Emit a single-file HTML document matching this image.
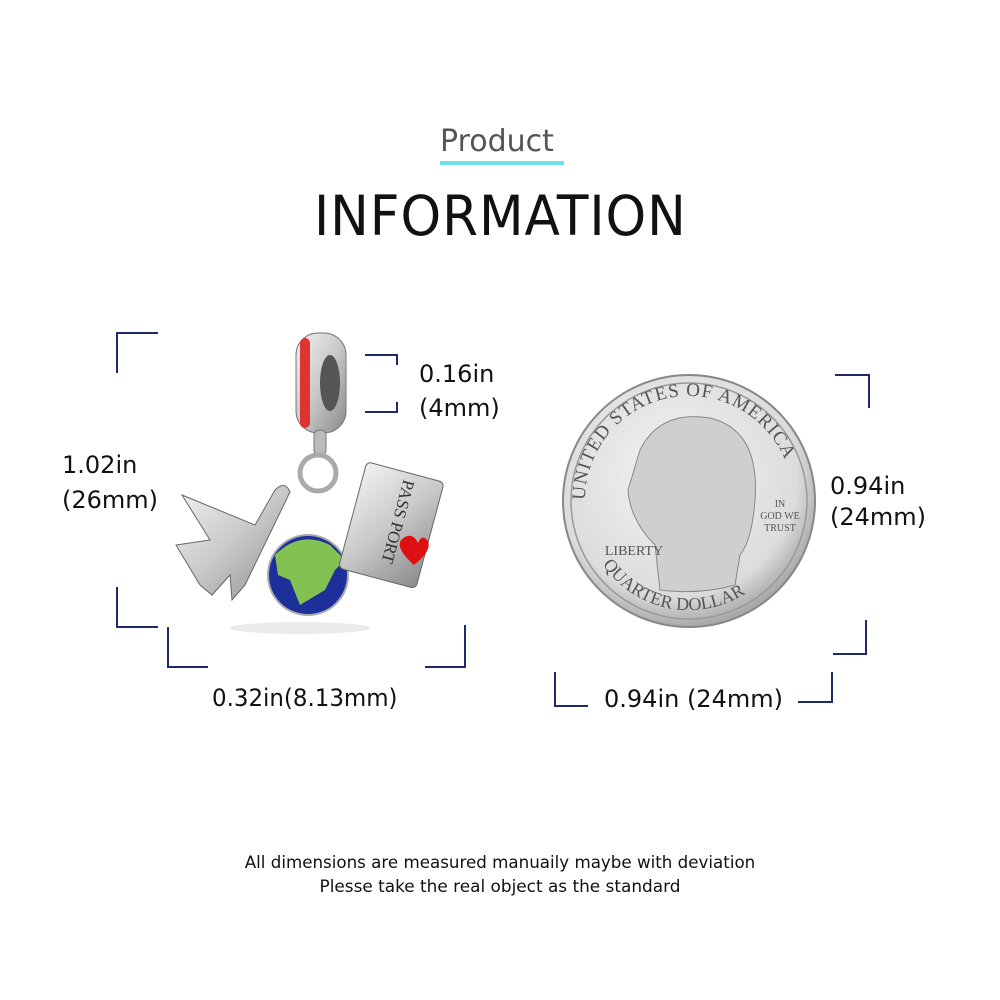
<!DOCTYPE html>
<html><head><meta charset="utf-8"><style>
html,body{margin:0;padding:0;background:#fff;}
body{width:1000px;height:1000px;position:relative;overflow:hidden;font-family:"DejaVu Sans","Liberation Sans",sans-serif;}
.t{position:absolute;white-space:nowrap;color:#111;}
svg{position:absolute;left:0;top:0;}
</style></head><body>
<svg width="1000" height="1000" viewBox="0 0 1000 1000">
<defs>
<radialGradient id="coin" cx="45%" cy="40%" r="60%"><stop offset="0" stop-color="#f4f4f4"/><stop offset="0.8" stop-color="#dcdcdc"/><stop offset="1" stop-color="#a8a8a8"/></radialGradient>
<linearGradient id="silver" x1="0" y1="0" x2="1" y2="1"><stop offset="0" stop-color="#f2f2f2"/><stop offset="0.5" stop-color="#c8c8c8"/><stop offset="1" stop-color="#8a8a8a"/></linearGradient>
</defs>
<rect x="440" y="161" width="124" height="4" fill="#6ee0ea"/>
<g stroke="#1f2a6e" stroke-width="2" fill="none">
<polyline points="158,333 117,333 117,373"/>
<polyline points="117,587 117,627 158,627"/>
<polyline points="168,627 168,667 208,667"/>
<polyline points="425,667 465,667 465,625"/>
<polyline points="365,355 397,355 397,365"/>
<polyline points="365,412 397,412 397,402"/>
<polyline points="835,375 869,375 869,408"/>
<polyline points="866,620 866,654 833,654"/>
<polyline points="555,672 555,706 588,706"/>
<polyline points="798,702 832,702 832,672"/>
</g>
<circle cx="689" cy="501" r="126" fill="url(#coin)" stroke="#888" stroke-width="2"/>
<circle cx="689" cy="501" r="118" fill="none" stroke="#999" stroke-width="1.5"/>
<path d="M640 450 Q660 410 710 418 Q760 430 755 500 Q752 540 740 555 L735 585 Q700 595 660 590 L655 545 Q630 520 628 490 Z" fill="#cfcfcf" stroke="#888"/>
<text x="689" y="555" font-family="Liberation Serif" font-size="14" fill="#555" text-anchor="middle" dx="-55">LIBERTY</text>
<text x="780" y="507" font-family="Liberation Serif" font-size="10" fill="#555" text-anchor="middle">IN</text>
<text x="780" y="519" font-family="Liberation Serif" font-size="10" fill="#555" text-anchor="middle">GOD WE</text>
<text x="780" y="531" font-family="Liberation Serif" font-size="10" fill="#555" text-anchor="middle">TRUST</text>
<path id="arcTop" d="M585 500 A104 104 0 0 1 793 500" fill="none"/>
<text font-family="Liberation Serif" font-size="19" fill="#555" letter-spacing="1"><textPath href="#arcTop">UNITED STATES OF AMERICA</textPath></text>
<path id="arcBot" d="M600 560 A104 104 0 0 0 778 560" fill="none"/>
<text font-family="Liberation Serif" font-size="18" fill="#555"><textPath href="#arcBot" startOffset="5">QUARTER DOLLAR</textPath></text>
<rect x="296" y="333" width="50" height="100" rx="22" fill="url(#silver)" stroke="#777"/>
<rect x="300" y="338" width="10" height="90" rx="5" fill="#d33"/>
<ellipse cx="330" cy="383" rx="10" ry="28" fill="#555"/>
<rect x="314" y="430" width="12" height="25" rx="5" fill="#bbb" stroke="#777"/>
<circle cx="318" cy="473" r="18" fill="none" stroke="#aaa" stroke-width="5"/>
<path d="M182 495 L255 525 L275 490 Q285 480 290 492 L245 585 L232 600 L230 575 L212 595 L200 585 L176 545 L210 540 Z" fill="url(#silver)" stroke="#666"/>
<circle cx="308" cy="575" r="40" fill="#1c2f9a" stroke="#aaa" stroke-width="2"/>
<path d="M275 555 Q300 530 330 545 L345 560 L335 570 L325 590 L300 605 L290 580 L278 575 Z" fill="#8fd24a" opacity="0.9"/>
<ellipse cx="300" cy="628" rx="70" ry="6" fill="#ddd" opacity="0.6"/>
<g transform="rotate(15 390 530)">
<rect x="350" y="470" width="80" height="110" rx="5" fill="url(#silver)" stroke="#666"/>
<text x="390" y="520" font-family="Liberation Serif" font-size="17" fill="#333" text-anchor="middle" transform="rotate(90 390 520)">PASS PORT</text>
</g>
<path d="M418 543 q-6 -12 -16 -4 q-8 8 12 26 q18 -14 14 -24 q-6 -8 -10 2z" fill="#d11"/>
</svg>
<div class="t" style="left:440px;top:124px;font-size:30px;color:#555;">Product</div>
<div class="t" style="left:314px;top:184px;font-size:55px;letter-spacing:1px;transform:scaleX(0.94);transform-origin:0 0;">INFORMATION</div>
<div class="t" style="left:419px;top:360px;font-size:24px;">0.16in</div>
<div class="t" style="left:419px;top:394px;font-size:24px;">(4mm)</div>
<div class="t" style="left:62px;top:451px;font-size:24px;">1.02in</div>
<div class="t" style="left:62px;top:486px;font-size:24px;">(26mm)</div>
<div class="t" style="left:212px;top:684px;font-size:24px;transform:scaleX(0.955);transform-origin:0 0;">0.32in(8.13mm)</div>
<div class="t" style="left:830px;top:472px;font-size:24px;">0.94in</div>
<div class="t" style="left:830px;top:503px;font-size:24px;">(24mm)</div>
<div class="t" style="left:604px;top:685px;font-size:24px;">0.94in (24mm)</div>
<div class="t" style="left:0;width:1000px;text-align:center;top:852px;font-size:16.7px;">All dimensions are measured manuaily maybe with deviation</div>
<div class="t" style="left:0;width:1000px;text-align:center;top:876px;font-size:16.9px;">Plesse take the real object as the standard</div>
</body></html>
